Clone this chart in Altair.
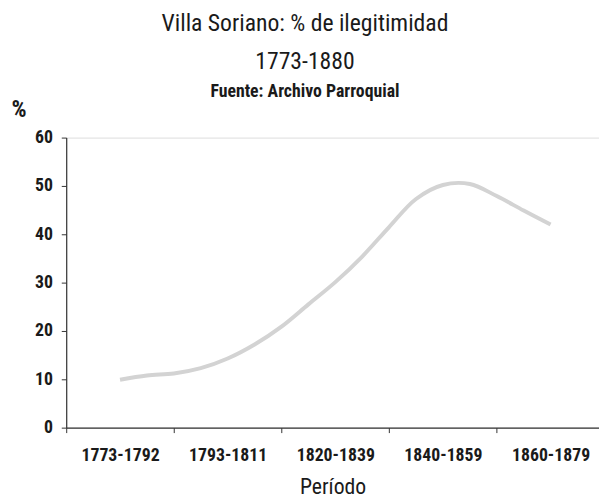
import altair as alt
import pandas as pd

# Category labels of the x axis
periodos = ["1773-1792", "1793-1811", "1820-1839", "1840-1859", "1860-1879"]

# Points of the traced curve: position along the period axis (0 = first period)
posicion = [0, 0.25, 0.5, 0.75, 1, 1.25, 1.5, 1.75, 2, 2.25, 2.5, 2.75, 3, 3.25, 3.5, 3.75, 4]
# % of illegitimate births
ilegitimidad = [9.9, 10.8, 11.2, 12.3, 14.3, 17.2, 20.9, 25.5, 30.1, 35.4, 41.5, 47.3,
                50.2, 50.4, 47.9, 44.9, 42.0]

y_ticks = [0, 10, 20, 30, 40, 50, 60]
x_ticks = [-0.5, 0, 0.5, 1, 1.5, 2, 2.5, 3, 3.5, 4]

df = pd.DataFrame({"pos": posicion, "pct": ilegitimidad})

FONT = "Liberation Sans Narrow, Arial Narrow, Roboto Condensed, Liberation Sans, sans-serif"
TXT = "#1a1a1a"

label_js = "[" + ",".join("'" + p + "'" for p in periodos) + "]"
label_expr = f"datum.value % 1 === 0 ? {label_js}[datum.value] : ''"

x_axis = alt.Axis(
    values=x_ticks,
    labelExpr=label_expr,
    labelOverlap=False,
    labelFlush=False,
    labelBound=False,
    labelFont=FONT,
    labelFontSize=18,
    labelFontWeight="bold",
    labelColor=TXT,
    labelPadding=14,
    labelBaseline="top",
    tickSize=5,
    tickColor="#333",
    tickOpacity={"condition": {"test": "datum.value % 1 === 0", "value": 0}, "value": 1},
    domainColor="#333",
    domainWidth=1.2,
    grid=False,
    title="Período",
    titleFont=FONT,
    titleFontSize=22,
    titleFontWeight="normal",
    titleColor=TXT,
    titleBaseline="alphabetic",
    titleY=67,
)

y_axis = alt.Axis(
    values=y_ticks,
    labelFont=FONT,
    labelFontSize=18,
    labelFontWeight="bold",
    labelColor=TXT,
    labelPadding=9,
    tickSize=5,
    tickColor="#333",
    domainColor="#333",
    domainWidth=1.2,
    grid=False,
    title="%",
    titleAngle=0,
    titleAlign="left",
    titleBaseline="alphabetic",
    titleX=-56,
    titleY=-21,
    titleFont=FONT,
    titleFontSize=24,
    titleFontWeight="bold",
    titleColor=TXT,
)

chart = (
    alt.Chart(df)
    .mark_line(color="#d3d3d3", strokeWidth=4, interpolate="catmull-rom")
    .encode(
        x=alt.X("pos:Q", scale=alt.Scale(domain=[-0.5, 4.45], nice=False, zero=False), axis=x_axis),
        y=alt.Y("pct:Q", scale=alt.Scale(domain=[0, 60], nice=False), axis=y_axis),
    )
    .properties(
        width=540,
        height=294,
        padding={"left": 59, "top": 128, "right": 0, "bottom": 72},
        autosize=alt.AutoSizeParams(type="none"),
        title=alt.TitleParams(
            text=["Villa Soriano: % de ilegitimidad", "1773-1880"],
            subtitle="Fuente: Archivo Parroquial",
            anchor="middle",
            frame="bounds",
            font=FONT,
            fontSize=24,
            fontWeight="normal",
            color=TXT,
            lineHeight=38,
            subtitleFont=FONT,
            subtitleFontSize=18,
            subtitleFontWeight="bold",
            subtitleColor=TXT,
            subtitlePadding=10,
            offset=0,
            dy=3,
        ),
    )
    .configure_view(stroke=None)
    .configure(background="white")
)

chart.save("out.html", embed_options={"renderer": "svg", "actions": False})
